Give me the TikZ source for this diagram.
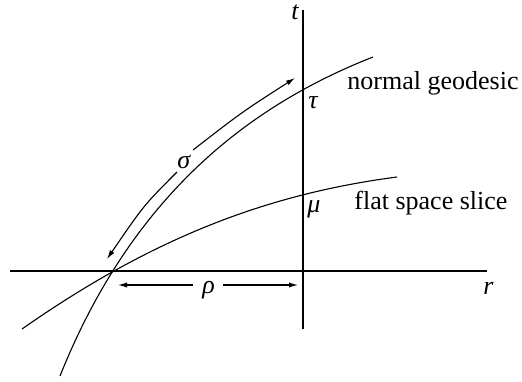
\documentclass[tikz,border=0pt]{standalone}
\usepackage{fontspec}
\setmainfont{Liberation Serif}
\usetikzlibrary{arrows.meta}
\tikzset{
  ln/.style={line width=0.55pt, black},
  arr/.style={ln, -{Latex[length=4.5pt,width=2.6pt]}},
  lbl/.style={inner sep=0pt, anchor=base west, font=\fontsize{13}{15}\selectfont},
  glbl/.style={lbl, font=\fontsize{13}{15}\selectfont\itshape}
}
\begin{document}
\begin{tikzpicture}[x=0.5pt,y=-0.5pt]
\useasboundingbox (0,0) rectangle (522,381);
% axes
\coordinate (hl) at (10,271);
\coordinate (hr) at (487,271);
\coordinate (vt) at (303,10);
\coordinate (vb) at (303,329);
\draw[ln] (hl) -- (hr);
\draw[ln] (vt) -- (vb);
% normal geodesic
\coordinate (g0) at (60,376);
\coordinate (g1) at (373,57);
\draw[ln] (g0) .. controls (130,201) and (243,108) .. (g1);
% flat space slice
\coordinate (f0) at (22,329);
\coordinate (f1) at (397,177);
\draw[ln] (f0) .. controls (152,238) and (267,194) .. (f1);
% sigma arrows
\coordinate (su0) at (193,150);
\coordinate (su1) at (295,78);
\coordinate (sl0) at (177,172);
\coordinate (sl1) at (107,259);
\draw[arr] (su0) .. controls (242,112) .. (su1);
\draw[arr] (sl0) .. controls (144,205) .. (sl1);
% rho arrows
\coordinate (rl) at (193,285);
\coordinate (rla) at (118,285);
\coordinate (rr) at (223,285);
\coordinate (rra) at (298,285);
\draw[arr] (rl) -- (rla);
\draw[arr] (rr) -- (rra);
% labels
\node[glbl] (t) at (291,19) {t};
\node[glbl] (r) at (483,294) {r};
\node[glbl] (tau) at (308,108) {τ};
\node[glbl] (mu) at (307,212) {μ};
\node[glbl] (sigma) at (177,168) {σ};
\node[glbl] (rho) at (202,293) {ρ};
\node[lbl] (ng) at (347,89) {normal geodesic};
\node[lbl] (fs) at (354,209) {flat space slice};
\end{tikzpicture}
\end{document}
